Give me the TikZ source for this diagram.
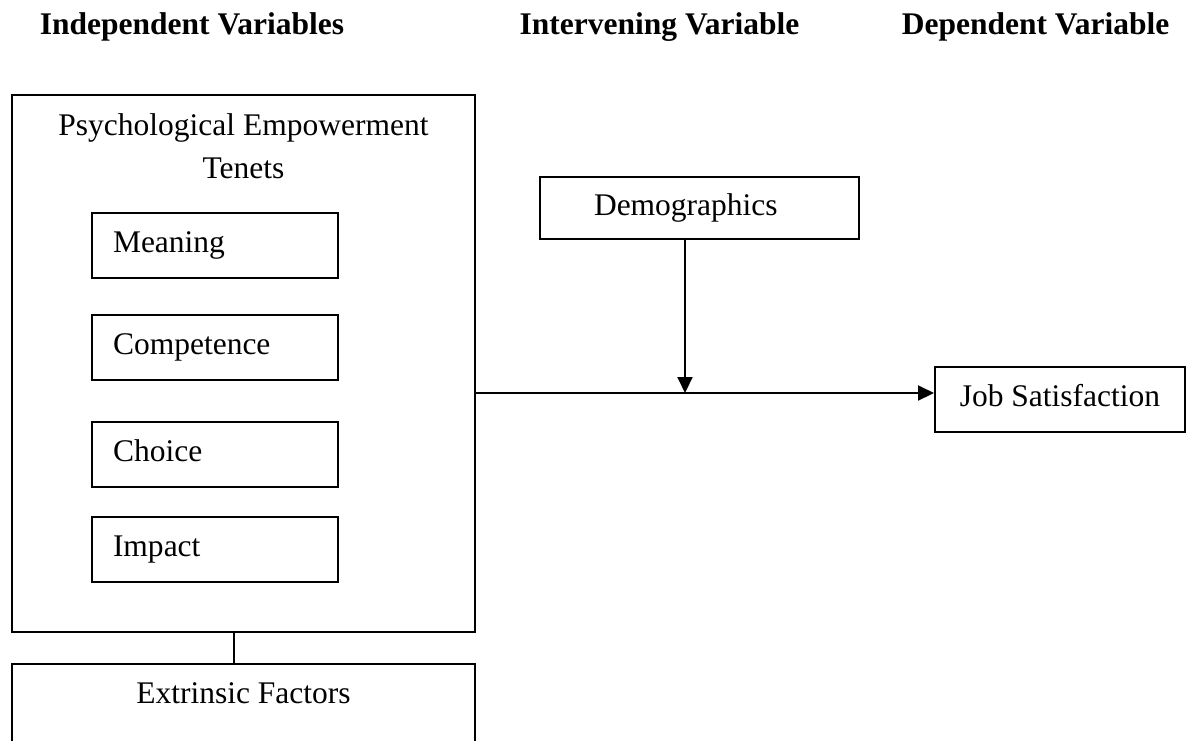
\documentclass[tikz,border=0pt]{standalone}
\usepackage{fontspec}
\setmainfont{Liberation Serif}
\usepackage{tikz}
\usetikzlibrary{arrows.meta,positioning}
\newcommand{\boxfont}{\fontsize{15.75}{21.5}\selectfont}
\tikzstyle{arrow} = [line width=1pt,-{Triangle[length=8pt,width=7.5pt]}]

\begin{document}
\begin{tikzpicture}[x=0.5pt, y=-0.5pt,
    heading/.style={font=\boxfont\bfseries, anchor=base, inner sep=0pt},
    bigbox/.style={rectangle, draw, line width=1pt, minimum width=231.5pt},
    tenet/.style={rectangle, draw, line width=1pt, minimum width=123pt, minimum height=32.5pt, text width=102pt, inner xsep=10.5pt, align=left, font=\boxfont, text height=11pt, text depth=4pt},
    varbox/.style={rectangle, draw, line width=1pt, font=\boxfont, text height=11pt, text depth=4pt}]

\useasboundingbox (0,0) rectangle (1186,740);
\clip (0,0) rectangle (1186,740);

% Column headings
\node[heading] (indep) at (192,34) {Independent Variables};
\node[heading] (interv) at (659.5,34) {Intervening Variable};
\node[heading] (dep) at (1035.5,34) {Dependent Variable};

% Independent variables
\node[bigbox, minimum height=268.5pt] (tenets) at (243.5,363.5) {};
\node[font=\boxfont, align=center, anchor=base] (tenetstitle) at (243.5,178) {Psychological Empowerment\\Tenets};

\node[tenet] (meaning) at (215,245.5) {Meaning};
\node[tenet] (competence) at (215,347.5) {Competence};
\node[tenet] (choice) at (215,454.5) {Choice};
\node[tenet] (impact) at (215,549) {Impact};

\node[bigbox, anchor=north, font=\boxfont, text height=11pt, text depth=40pt, inner ysep=8.5pt] (extrinsic) at (243.5,663) {Extrinsic Factors};
\draw[line width=1pt] ([xshift=-4.75pt]tenets.south) -- ([xshift=-4.75pt]extrinsic.north);

% Intervening and dependent variables
\node[varbox, minimum width=159.5pt, minimum height=31pt, text width=105.5pt, inner xsep=27pt, align=left] (demographics) at (699.5,208) {Demographics};
\node[varbox, minimum width=125pt, minimum height=32.5pt] (jobsat) at (1060,399.5) {Job Satisfaction};

% Connectors
\coordinate (meet) at (685,393);
\draw[arrow] (tenets.east |- meet) -- (jobsat.west |- meet);
\draw[arrow] (demographics.south -| meet) -- (meet);

\end{tikzpicture}
\end{document}
